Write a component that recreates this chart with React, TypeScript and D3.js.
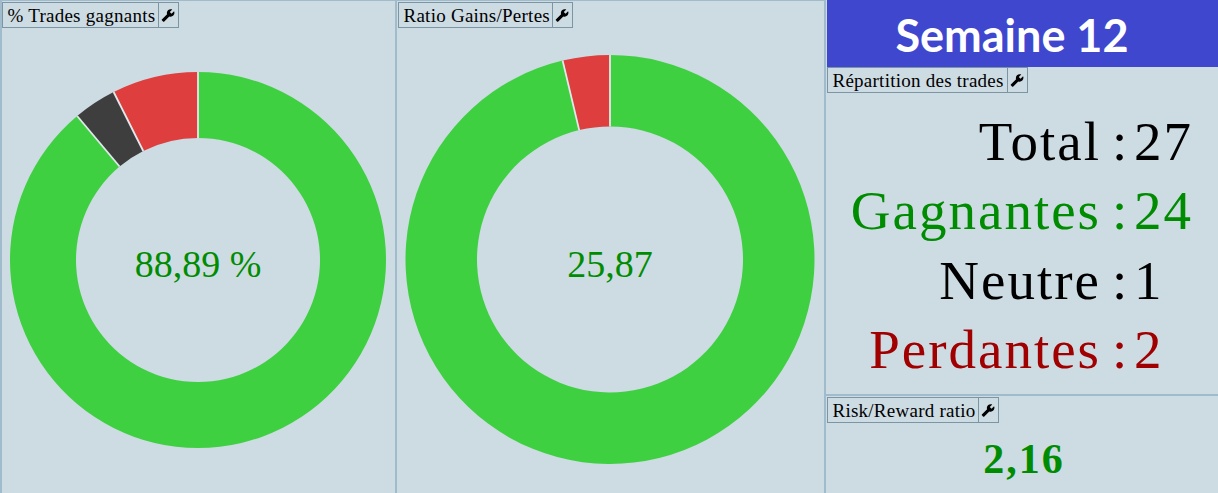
import * as d3 from "d3";

const TOTAL = 27;
const winCount = 24;
const neutralCount = 1;
const loseCount = 2;
const gainLoss = [25.87, 1];
const riskReward = "2,16";
const weekLabel = "Semaine 12";

const tradeColors = ["#3fd041", "#3e3e3e", "#de3e3e"];
const ratioColors = ["#3fd041", "#de3e3e"];

const statLabels = ["Total", "Gagnantes", "Neutre", "Perdantes"];
const statValues = [TOTAL, winCount, neutralCount, loseCount];
const statColors = ["#000000", "#008c00", "#000000", "#a00000"];

const BG = "#cddbe3";
const LINE = "#a0bccc";
const SERIF = "'Liberation Serif', serif";
const WRENCH =
  "M22.7 19l-9.1-9.1c.9-2.3.4-5-1.5-6.9-2-2-5-2.4-7.4-1.3L9 6 6 9 1.6 4.7C.4 7.1.9 10.1 2.9 12.1c1.9 1.9 4.6 2.4 6.9 1.5l9.1 9.1c.4.4 1 .4 1.4 0l2.3-2.3c.5-.4.5-1.1.1-1.4z";

function Donut({ values, colors, cx, cy, outer, inner, label }: {
  values: number[]; colors: string[]; cx: number; cy: number; outer: number; inner: number; label: string;
}) {
  // slices run clockwise from 12 o'clock, in data order
  const slices = d3.pie<number>().value((d) => d).sort(null)(values);
  const arc = d3.arc<d3.PieArcDatum<number>>().innerRadius(inner).outerRadius(outer);
  return (
    <g transform={`translate(${cx},${cy})`}>
      {slices.map((d, i) => (
        <path key={i} d={arc(d) ?? ""} fill={colors[i]} />
      ))}
      {/* light separators between slices only, no outline on the ring */}
      {slices.map((d, i) => {
        const [x1, y1] = d3.pointRadial(d.startAngle, inner);
        const [x2, y2] = d3.pointRadial(d.startAngle, outer);
        return <line key={i} x1={x1} y1={y1} x2={x2} y2={y2} stroke="#e0e8ec" strokeWidth={1.8} />;
      })}
      <text y={17} textAnchor="middle" fontFamily={SERIF} fontSize={38} fill="#008c00">{label}</text>
    </g>
  );
}

function Header({ x, y, w, text }: { x: number; y: number; w: number; text: string }) {
  return (
    <g transform={`translate(${x},${y})`}>
      <rect x={0.5} y={0.5} width={w} height={25} fill="none" stroke="#7c95a4" />
      <rect x={w + 0.5} y={0.5} width={20} height={25} fill="none" stroke="#7c95a4" />
      <text x={5.5} y={20} fontFamily={SERIF} fontSize={19} letterSpacing={0.25} fill="#000">{text}</text>
      <path d={WRENCH} transform={`translate(${w + 17},6.5) scale(-0.58,0.58)`} fill="#000" />
    </g>
  );
}

export default function App() {
  const rowY = d3.scalePoint<number>().domain(statValues.map((_, i) => i)).range([160, 368]);
  return (
    <svg width={1218} height={493} style={{ position: "absolute", left: 0, top: 0, display: "block" }}>
      <rect width={1218} height={493} fill={BG} />
      <g stroke={LINE} strokeWidth={2}>
        <line x1={1} y1={0} x2={1} y2={493} />
        <line x1={0} y1={0.5} x2={826} y2={0.5} strokeWidth={1} />
        <line x1={396} y1={0} x2={396} y2={493} />
        <line x1={825} y1={0} x2={825} y2={493} />
        <line x1={825} y1={395} x2={1218} y2={395} />
      </g>

      <Header x={2} y={2} w={156} text="% Trades gagnants" />
      <Header x={398} y={2} w={154} text="Ratio Gains/Pertes" />
      <Header x={827} y={67} w={180} text="Répartition des trades" />
      <Header x={827} y={397} w={151} text="Risk/Reward ratio" />

      <Donut values={[winCount, neutralCount, loseCount]} colors={tradeColors}
        cx={198} cy={260} outer={188} inner={122} label="88,89 %" />
      <Donut values={gainLoss} colors={ratioColors}
        cx={610} cy={259.5} outer={204.5} inner={133} label="25,87" />

      <rect x={827} y={0} width={391} height={67} fill="#4047cf" />
      <text x={1012} y={52} textAnchor="middle" fontFamily="Lato, sans-serif" fontWeight={700} fontSize={45} fill="#fff">{weekLabel}</text>

      {statLabels.map((label, i) => (
        <g key={label} fontFamily={SERIF} fontSize={55} letterSpacing={2} fill={statColors[i]}>
          <text x={1101} y={rowY(i)} textAnchor="end">{label}</text>
          <text x={1112} y={rowY(i)}>:</text>
          <text x={1134} y={rowY(i)}>{statValues[i]}</text>
        </g>
      ))}

      <text x={1024} y={473} textAnchor="middle" fontFamily={SERIF} fontWeight={700} fontSize={42} letterSpacing={2} fill="#008c00">{riskReward}</text>
    </svg>
  );
}
